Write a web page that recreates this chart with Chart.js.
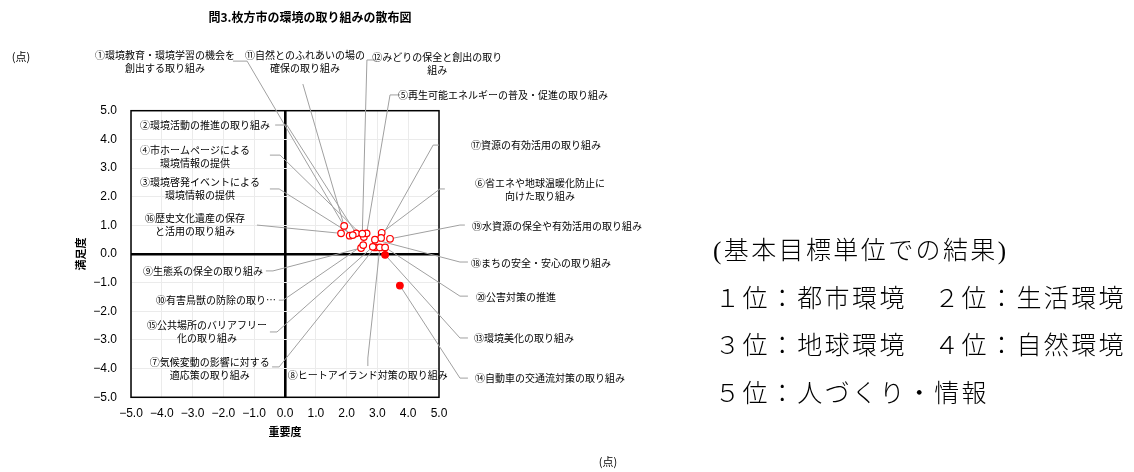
<!DOCTYPE html>
<html lang="ja">
<head>
<meta charset="utf-8">
<title>問3.枚方市の環境の取り組みの散布図</title>
<script src="https://cdn.jsdelivr.net/npm/chart.js@4.4.1/dist/chart.umd.min.js"></script>
<style>
  html, body { margin: 0; padding: 0; background: #fff; }
  #wrap { position: relative; width: 1134px; height: 472px; }
  #summary {
    position: absolute; left: 713px; top: 227px;
    font-family: "Liberation Serif", "Noto Sans CJK JP", serif;
    font-size: 25px; font-weight: 300; color: #000; line-height: 47.5px;
    letter-spacing: 2.4px; white-space: nowrap;
  }
  #summary .item { padding-left: 2px; }
</style>
</head>
<body>
<div id="wrap">
  <canvas id="scatter"></canvas>
  <div id="summary">
    <div>(基本目標単位での結果)</div>
    <div class="item">１位：都市環境　２位：生活環境</div>
    <div class="item">３位：地球環境　４位：自然環境</div>
    <div class="item">５位：人づくり・情報</div>
  </div>
</div>
<script>
// ── Data ───────────────────────────────────────────────────────────────────────

const ITEMS = [
  '①環境教育・環境学習の機会を\n創出する取り組み',
  '②環境活動の推進の取り組み',
  '③環境啓発イベントによる\n環境情報の提供',
  '④市ホームページによる\n環境情報の提供',
  '⑤再生可能エネルギーの普及・促進の取り組み',
  '⑥省エネや地球温暖化防止に\n向けた取り組み',
  '⑦気候変動の影響に対する\n適応策の取り組み',
  '⑧ヒートアイランド対策の取り組み',
  '⑨生態系の保全の取り組み',
  '⑩有害鳥獣の防除の取り…',
  '⑪自然とのふれあいの場の\n確保の取り組み',
  '⑫みどりの保全と創出の取り\n組み',
  '⑬環境美化の取り組み',
  '⑭自動車の交通流対策の取り組み',
  '⑮公共場所のバリアフリー\n化の取り組み',
  '⑯歴史文化遺産の保存\nと活用の取り組み',
  '⑰資源の有効活用の取り組み',
  '⑱まちの安全・安心の取り組み',
  '⑲水資源の保全や有効活用の取り組み',
  '⑳公害対策の推進'
];

// 重要度 (x) / 満足度 (y), in item order ①..⑳
const IMPORTANCE   = [2.10, 2.31, 2.20, 2.56, 2.65, 3.14, 2.92, 3.08, 2.47, 2.54,
                      1.92, 2.51, 3.25, 3.73, 2.85, 1.82, 3.12, 2.92, 3.41, 3.25];
const SATISFACTION = [0.64, 0.72, 0.66, 0.59, 0.72, 0.74, 0.23, 0.23, 0.21, 0.31,
                      0.98, 0.71, -0.03, -1.10, 0.25, 0.72, 0.56, 0.50, 0.53, 0.23];

const AXIS_MIN = -5;
const AXIS_MAX = 5;
const TICK_STEP = 1;

// ── Label layout (axis units): text centre, leader start, leader elbow ─────────

const LABEL_LAYOUT = [
  { cx: -3.90, cy:  6.94, sx: -1.69, sy:  6.73, ex: -1.23, ey:  6.73 },
  { cx: -2.60, cy:  4.50, sx: -0.32, sy:  4.50, ex:  0.06, ey:  4.50 },
  { cx: -2.76, cy:  2.51, sx: -0.49, sy:  2.27, ex: -0.19, ey:  2.27 },
  { cx: -2.92, cy:  3.63, sx: -0.49, sy:  3.45, ex: -0.16, ey:  3.45 },
  { cx:  7.08, cy:  5.55, sx:  3.73, sy:  5.55, ex:  3.41, ey:  5.55 },
  { cx:  8.28, cy:  2.48, sx:  5.19, sy:  2.27, ex:  5.03, ey:  2.27 },
  { cx: -2.44, cy: -3.77, sx: -0.42, sy: -3.94, ex: -0.19, ey: -3.94 },
  { cx:  2.69, cy: -4.22, sx:  2.69, sy: -3.91, ex:  2.69, ey: -3.63 },
  { cx: -2.66, cy: -0.59, sx: -0.62, sy: -0.59, ex: -0.39, ey: -0.59 },
  { cx: -2.24, cy: -1.61, sx: -0.20, sy: -1.61, ex: -0.06, ey: -1.61 },
  { cx:  0.65, cy:  6.94, sx:  0.58, sy:  5.93, ex:  0.58, ey:  5.93 },
  { cx:  4.94, cy:  6.87, sx:  2.99, sy:  6.77, ex:  2.66, ey:  6.77 },
  { cx:  7.76, cy: -2.93, sx:  5.94, sy: -2.93, ex:  5.68, ey: -2.93 },
  { cx:  8.60, cy: -4.33, sx:  5.94, sy: -4.33, ex:  5.68, ey: -4.33 },
  { cx: -2.53, cy: -2.48, sx: -0.49, sy: -2.72, ex: -0.26, ey: -2.72 },
  { cx: -2.92, cy:  1.26, sx: -0.91, sy:  1.01, ex: -0.91, ey:  1.01 },
  { cx:  8.15, cy:  3.80, sx:  5.00, sy:  3.80, ex:  4.81, ey:  3.80 },
  { cx:  8.31, cy: -0.31, sx:  5.94, sy: -0.28, ex:  5.68, ey: -0.28 },
  { cx:  8.83, cy:  0.98, sx:  5.84, sy:  1.01, ex:  5.68, ey:  1.01 },
  { cx:  7.50, cy: -1.50, sx:  5.94, sy: -1.47, ex:  5.68, ey: -1.47 }
];

const RED = '#ff0000';
const LEADER = '#a0a0a0';
const JP_FONT = '"Noto Sans CJK JP", "Noto Sans", sans-serif';

// ── Helpers ────────────────────────────────────────────────────────────────────

function fmtTick(v) {
  return (v < 0 ? '\u2212' : '') + Math.abs(v).toFixed(1);
}

const points = IMPORTANCE.map((x, i) => ({ x, y: SATISFACTION[i] }));

// ── Plugin: frame, leader lines, data labels, titles ──────────────────────────

const decorPlugin = {
  id: 'decor',
  beforeDatasetsDraw(chart) {
    const { ctx, chartArea: a, scales: { x, y } } = chart;
    ctx.save();
    // plot frame
    ctx.strokeStyle = '#000';
    ctx.lineWidth = 1.5;
    ctx.strokeRect(a.left, a.top, a.right - a.left, a.bottom - a.top);
    // leader lines
    ctx.strokeStyle = LEADER;
    ctx.lineWidth = 1;
    LABEL_LAYOUT.forEach((l, i) => {
      ctx.beginPath();
      ctx.moveTo(x.getPixelForValue(l.sx), y.getPixelForValue(l.sy));
      ctx.lineTo(x.getPixelForValue(l.ex), y.getPixelForValue(l.ey));
      ctx.lineTo(x.getPixelForValue(IMPORTANCE[i]), y.getPixelForValue(SATISFACTION[i]));
      ctx.stroke();
    });
    ctx.restore();
  },
  afterDraw(chart) {
    const { ctx, chartArea: a, scales: { x, y } } = chart;
    ctx.save();
    ctx.fillStyle = '#000';
    ctx.textAlign = 'center';
    ctx.textBaseline = 'middle';

    // data labels
    ctx.font = '10px ' + JP_FONT;
    ITEMS.forEach((txt, i) => {
      const l = LABEL_LAYOUT[i];
      const px = x.getPixelForValue(l.cx);
      const py = y.getPixelForValue(l.cy);
      txt.split('\n').forEach((line, k) => ctx.fillText(line, px, py + k * 13.5));
    });

    // chart title
    ctx.font = 'bold 12px ' + JP_FONT;
    ctx.fillText('問3.枚方市の環境の取り組みの散布図', 310, 17);

    // axis titles
    ctx.font = 'bold 11px ' + JP_FONT;
    ctx.fillText('重要度', (a.left + a.right) / 2, 432);
    ctx.save();
    ctx.translate(81, (a.top + a.bottom) / 2);
    ctx.rotate(-Math.PI / 2);
    ctx.fillText('満足度', 0, 0);
    ctx.restore();

    // unit marks
    ctx.font = '11px ' + JP_FONT;
    ctx.fillText('(点)', 21, 57);
    ctx.fillText('(点)', 608, 462);
    ctx.restore();
  }
};

// ── Chart ──────────────────────────────────────────────────────────────────────

const axisCommon = {
  type: 'linear',
  min: AXIS_MIN,
  max: AXIS_MAX,
  border: { display: false },
  grid: {
    drawTicks: false,
    color: c => (c.tick && c.tick.value === 0 ? '#000' : '#ebebeb'),
    lineWidth: c => (c.tick && c.tick.value === 0 ? 2.6 : 1)
  },
  ticks: {
    stepSize: TICK_STEP,
    color: '#000',
    font: { family: '"Liberation Sans", Arial, sans-serif', size: 12 },
    callback: v => fmtTick(v)
  }
};

new Chart(document.getElementById('scatter'), {
  type: 'scatter',
  data: {
    datasets: [{
      label: '満足度',
      data: points,
      pointRadius: 3.3,
      pointHoverRadius: 3.3,
      borderWidth: 1.2,
      borderColor: RED,
      backgroundColor: c => (c.raw && c.raw.y < 0 ? RED : '#ffffff')
    }]
  },
  options: {
    responsive: true,
    maintainAspectRatio: false,
    animation: false,
    events: [],
    layout: { padding: { left: 0, top: 110.7, right: 695, bottom: 0 } },
    plugins: { legend: { display: false }, tooltip: { enabled: false } },
    scales: {
      x: Object.assign({}, axisCommon, {
        position: 'bottom',
        ticks: Object.assign({}, axisCommon.ticks, { padding: 9, maxRotation: 0 }),
        afterFit: s => { s.height = 74.7; }
      }),
      y: Object.assign({}, axisCommon, {
        position: 'left',
        ticks: Object.assign({}, axisCommon.ticks, { padding: 14 }),
        afterFit: s => { s.width = 131; }
      })
    }
  },
  plugins: [decorPlugin]
});
</script>
</body>
</html>
